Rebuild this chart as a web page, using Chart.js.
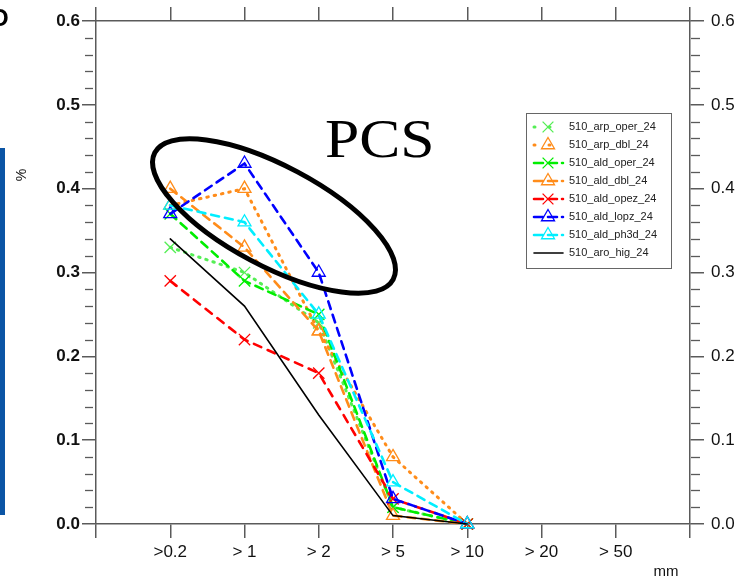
<!DOCTYPE html>
<html>
<head>
<meta charset="utf-8">
<script src="https://cdn.jsdelivr.net/npm/chart.js@4.4.1/dist/chart.umd.min.js"></script>
<style>
html,body{margin:0;padding:0;background:#fff;}
#wrap{width:746px;height:581px;position:relative;}
</style>
</head>
<body>
<div id="wrap"><canvas id="c" width="746" height="581"></canvas></div>
<script>
// ---- data ----
const categories = ['>0.2', '> 1', '> 2', '> 5', '> 10', '> 20', '> 50'];
const seriesNames = ['510_arp_oper_24', '510_arp_dbl_24', '510_ald_oper_24', '510_ald_dbl_24',
                     '510_ald_opez_24', '510_ald_lopz_24', '510_ald_ph3d_24', '510_aro_hig_24'];
const arp_oper_24 = [0.33, 0.30, 0.24, 0.02, 0.00];
const arp_dbl_24  = [0.38, 0.40, 0.23, 0.08, 0.00];
const ald_oper_24 = [0.37, 0.29, 0.25, 0.02, 0.00];
const ald_dbl_24  = [0.40, 0.33, 0.23, 0.01, 0.00];
const ald_opez_24 = [0.29, 0.22, 0.18, 0.03, 0.00];
const ald_lopz_24 = [0.37, 0.43, 0.30, 0.03, 0.00];
const ald_ph3d_24 = [0.38, 0.36, 0.25, 0.05, 0.00];
const aro_hig_24  = [0.34, 0.26, 0.13, 0.01, 0.00];
const yTickValues = [0.0, 0.1, 0.2, 0.3, 0.4, 0.5, 0.6];

const seriesValues = [arp_oper_24, arp_dbl_24, ald_oper_24, ald_dbl_24, ald_opez_24, ald_lopz_24, ald_ph3d_24, aro_hig_24];
const styles = [
  {color:'#55ee55', dash:[1.5,6], width:3, marker:'crossRot'},
  {color:'#ff8c1a', dash:[1.5,6], width:3, marker:'triangle'},
  {color:'#00ee00', dash:[8,6], width:2.6, marker:'crossRot'},
  {color:'#ff8c1a', dash:[8,6], width:2.6, marker:'triangle'},
  {color:'#ff0000', dash:[8,7], width:2.6, marker:'crossRot'},
  {color:'#0000ff', dash:[8,6], width:2.6, marker:'triangle'},
  {color:'#00eeff', dash:[8,6], width:2.6, marker:'triangle'},
  {color:'#000000', dash:[], width:1.6, marker:false}
];

const AX = '#5a5a5a';
const FONT = "'Liberation Sans', Arial, Helvetica, sans-serif";

const datasets = seriesValues.map((vals, i) => ({
  label: seriesNames[i],
  data: vals.map((v, k) => ({x: k + 1, y: v})),
  borderColor: styles[i].color,
  borderDash: styles[i].dash,
  borderWidth: styles[i].width,
  borderCapStyle: 'round',
  pointStyle: styles[i].marker,
  pointRadius: styles[i].marker ? (styles[i].marker === 'triangle' ? 7.5 : 8) : 0,
  pointBorderWidth: 1.3,
  pointBorderColor: styles[i].color,
  pointBackgroundColor: 'rgba(0,0,0,0)',
  tension: 0,
  fill: false,
  clip: false,
  order: seriesValues.length - i
}));

function drawMarker(ctx, style, x, y, r, color) {
  ctx.save();
  ctx.strokeStyle = color; ctx.lineWidth = 1.3; ctx.setLineDash([]);
  ctx.beginPath();
  if (style === 'crossRot') {
    const d = r * 0.72;
    ctx.moveTo(x - d, y - d); ctx.lineTo(x + d, y + d);
    ctx.moveTo(x + d, y - d); ctx.lineTo(x - d, y + d);
  } else if (style === 'triangle') {
    ctx.moveTo(x, y - r); ctx.lineTo(x + r * 0.87, y + r * 0.5); ctx.lineTo(x - r * 0.87, y + r * 0.5); ctx.closePath();
  }
  ctx.stroke();
  ctx.restore();
}

const decor = {
  id: 'decor',
  beforeDraw(chart) {
    const ctx = chart.ctx;
    ctx.save();
    ctx.fillStyle = '#fff'; ctx.fillRect(0, 0, chart.width, chart.height);
    ctx.fillStyle = '#0b55a5'; ctx.fillRect(0, 148, 5, 367);
    ctx.fillStyle = '#000';
    ctx.font = 'bold 24px ' + FONT;
    ctx.textBaseline = 'alphabetic';
    ctx.fillText('O', -10, 26);
    ctx.restore();
  },
  afterDraw(chart) {
    const ctx = chart.ctx;
    const y = chart.scales.y, yr = chart.scales.yr;
    ctx.save();
    // minor ticks
    ctx.strokeStyle = AX; ctx.lineWidth = 1.3;
    for (let k = 0; k <= 30; k++) {
      if (k % 5 === 0) continue;
      const py = Math.round(y.getPixelForValue(k * 0.02)) + 0.5;
      ctx.beginPath(); ctx.moveTo(y.right - 11, py); ctx.lineTo(y.right - 3, py); ctx.stroke();
      const pr = Math.round(yr.getPixelForValue(k * 0.02)) + 0.5;
      ctx.beginPath(); ctx.moveTo(yr.left + 1, pr); ctx.lineTo(yr.left + 10, pr); ctx.stroke();
    }
    // axis titles
    ctx.fillStyle = '#111';
    ctx.font = '15px ' + FONT;
    ctx.textAlign = 'center'; ctx.textBaseline = 'middle';
    ctx.fillText('mm', 666, 572);
    ctx.save();
    ctx.translate(22, 175); ctx.rotate(-Math.PI / 2);
    ctx.font = '14px ' + FONT;
    ctx.fillText('%', 0, 0);
    ctx.restore();
    // legend
    const lx = 526, ly = 113, lw = 145, lh = 155;
    ctx.fillStyle = '#fff'; ctx.fillRect(lx, ly, lw, lh);
    ctx.strokeStyle = '#666'; ctx.lineWidth = 1; ctx.strokeRect(lx + 0.5, ly + 0.5, lw, lh);
    chart.data.datasets.forEach((ds, i) => {
      const ry = 127 + i * 18;
      ctx.save();
      ctx.strokeStyle = ds.borderColor; ctx.lineWidth = ds.borderWidth;
      ctx.lineCap = 'round';
      ctx.setLineDash(ds.borderDash.length ? (ds.borderDash[0] < 3 ? [1, 14] : [9, 5]) : []);
      ctx.beginPath(); ctx.moveTo(534, ry); ctx.lineTo(563, ry); ctx.stroke();
      ctx.restore();
      if (ds.pointStyle) drawMarker(ctx, ds.pointStyle, 548, ry, 7.5, ds.borderColor);
      ctx.fillStyle = '#222'; ctx.font = '11px ' + FONT;
      ctx.textAlign = 'left'; ctx.textBaseline = 'middle';
      ctx.fillText(ds.label, 569, ry);
    });
    // ellipse annotation
    ctx.save();
    ctx.strokeStyle = '#000'; ctx.lineWidth = 5;
    ctx.beginPath();
    ctx.ellipse(274, 216, 135, 50, 28 * Math.PI / 180, 0, Math.PI * 2);
    ctx.stroke();
    ctx.restore();
    // PCS label
    ctx.save();
    ctx.fillStyle = '#000';
    ctx.translate(325, 157);
    ctx.scale(1.12, 1);
    ctx.font = "55px 'Liberation Serif', 'Times New Roman', serif";
    ctx.textAlign = 'left'; ctx.textBaseline = 'alphabetic';
    ctx.fillText('PCS', 0, 0);
    ctx.restore();
    ctx.restore();
  }
};

const gridCommon = { display: true, drawOnChartArea: false, drawTicks: true, tickLength: 14, color: AX, lineWidth: 1.5 };
const borderCommon = { display: true, color: AX, width: 1.5 };

new Chart(document.getElementById('c'), {
  type: 'line',
  data: { datasets },
  plugins: [decor],
  options: {
    responsive: false,
    animation: false,
    events: [],
    layout: { padding: 0 },
    plugins: { legend: { display: false }, tooltip: { enabled: false } },
    scales: {
      x: {
        type: 'linear', position: 'bottom', min: 0, max: 8,
        afterBuildTicks: s => { s.ticks = [0,1,2,3,4,5,6,7,8].map(v => ({value: v})); },
        ticks: {
          autoSkip: false, maxRotation: 0, padding: 4, color: '#111',
          font: { family: FONT, size: 17 },
          callback: v => (v >= 1 && v <= categories.length) ? categories[v - 1] : ''
        },
        grid: gridCommon, border: borderCommon,
        afterFit: s => { s.height = 57; }
      },
      xt: {
        type: 'linear', position: 'top', min: 0, max: 8,
        afterBuildTicks: s => { s.ticks = [0,1,2,3,4,5,6,7,8].map(v => ({value: v})); },
        ticks: { callback: () => '', padding: 0 },
        grid: gridCommon, border: borderCommon,
        afterFit: s => { s.height = 21; }
      },
      y: {
        type: 'linear', position: 'left', min: 0, max: 0.6,
        afterBuildTicks: s => { s.ticks = yTickValues.map(v => ({value: v})); },
        ticks: {
          padding: 2, color: '#111',
          font: { family: FONT, size: 17, weight: 'bold' },
          callback: v => Number(v).toFixed(1)
        },
        grid: gridCommon, border: borderCommon,
        afterFit: s => { s.width = 96; }
      },
      yr: {
        type: 'linear', position: 'right', min: 0, max: 0.6,
        afterBuildTicks: s => { s.ticks = yTickValues.map(v => ({value: v})); },
        ticks: {
          padding: 7, color: '#111',
          font: { family: FONT, size: 17 },
          callback: v => Number(v).toFixed(1)
        },
        grid: gridCommon, border: borderCommon,
        afterFit: s => { s.width = 56; }
      }
    }
  }
});
</script>
</body>
</html>
